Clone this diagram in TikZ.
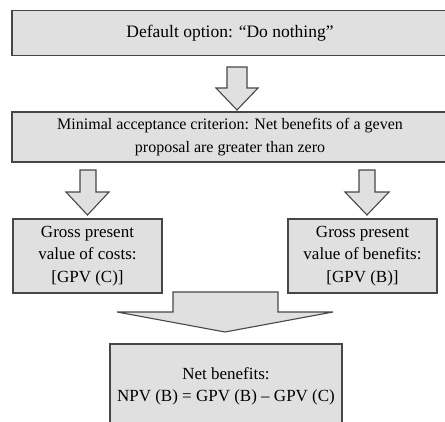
\documentclass[tikz,border=0pt]{standalone}
\usepackage{fontspec}
\setmainfont{Liberation Serif}
\usetikzlibrary{calc}

\tikzset{
  box/.style={draw=black!72, fill=black!12, line width=1.1pt, inner sep=0pt, align=center,
    font=\fontsize{17}{22.5}\selectfont},
  blockarrow/.style={draw=black!72, fill=black!12, line width=1.1pt, line join=miter},
}

\begin{document}
\begin{tikzpicture}[x=1pt,y=-1pt]
    \useasboundingbox (0,0) rectangle (445,421);

    % Kiindulo allapot es elfogadasi kriterium
    \node[box, minimum width=436pt, minimum height=45pt, font=\fontsize{17.5}{22.5}\selectfont]
        (default) at (230,33) {Default option: “Do nothing”};
    \node[box, minimum width=436pt, minimum height=50pt, font=\fontsize{16}{22.5}\selectfont]
        (criterion) at (230,137)
        {Minimal acceptance criterion: Net benefits of a geven\\proposal are greater than zero};

    % Koltsegek es hasznok
    \node[box, minimum width=149pt, minimum height=74pt] (costs) at (87.5,256)
        {Gross present\\value of costs:\\{}[GPV (C)]};
    \node[box, minimum width=149pt, minimum height=74pt] (benefits) at (362.5,256)
        {Gross present\\value of benefits:\\{}[GPV (B)]};

    % Netto haszon
    \node[box, minimum width=232pt, minimum height=85pt, font=\fontsize{17}{22}\selectfont]
        (net) at (226,386.5) {Net benefits:\\NPV (B) = GPV (B) – GPV (C)};

    % Blokknyilak
    \draw[blockarrow] (227,67) -- (247,67) -- (247,88) -- (258,88) -- (237,110) -- (216,88) -- (227,88) -- cycle;
    \draw[blockarrow] (80,170) -- (96,170) -- (96,192) -- (109,192) -- (87.5,215) -- (66,192) -- (80,192) -- cycle;
    \draw[blockarrow] (359,170) -- (375,170) -- (375,192) -- (389,192) -- (367,215) -- (345,192) -- (359,192) -- cycle;
    \draw[blockarrow] (173,292) -- (278,292) -- (278,312) -- (333,312) -- (225,332) -- (117,312) -- (173,312) -- cycle;

\end{tikzpicture}
\end{document}
